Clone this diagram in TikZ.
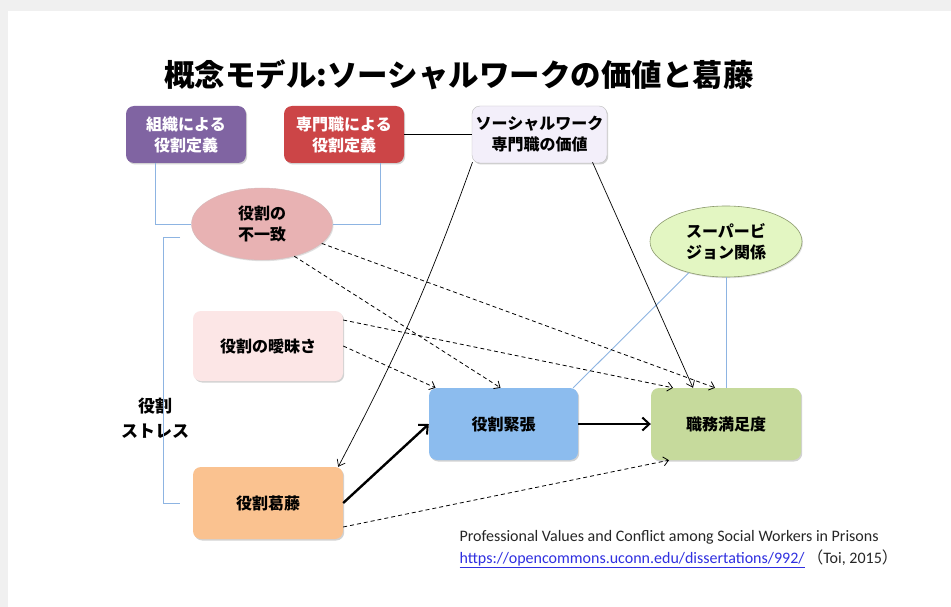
\documentclass[tikz,border=0pt]{standalone}
\usepackage{fontspec}
\setmainfont{Noto Sans CJK JP}
\newfontfamily\lat{Carlito}
\usetikzlibrary{shapes.geometric,arrows.meta,shadows}
\definecolor{cpurple}{HTML}{8064A2}
\definecolor{cred}{HTML}{CC4547}
\definecolor{clav}{HTML}{F3EFFA}
\definecolor{cpink}{HTML}{E8B2B3}
\definecolor{clpink}{HTML}{FCE6E6}
\definecolor{corange}{HTML}{FAC290}
\definecolor{cblue}{HTML}{8CBCEE}
\definecolor{cgreen}{HTML}{C6DA9C}
\definecolor{clgreen}{HTML}{E3F6C2}
\definecolor{cline}{HTML}{8DB4E2}
\definecolor{curl}{HTML}{2F2FE0}
\tikzset{
  box/.style={rounded corners=8pt, minimum width=120pt, minimum height=57pt, align=center,
    font=\fontsize{16}{21}\selectfont\bfseries, inner sep=2pt,
    drop shadow={shadow xshift=1.2pt, shadow yshift=-1.5pt, opacity=0.35}},
  oval/.style={ellipse, inner sep=0pt, align=center, font=\fontsize{16}{21}\selectfont\bfseries,
    drop shadow={shadow xshift=1pt, shadow yshift=-1.2pt, opacity=0.25}},
  bl/.style={draw=cline, line width=0.9pt},
  dsh/.style={draw=black, line width=0.8pt, dash pattern=on 4pt off 3pt, -{Straight Barb[length=5pt,width=9pt]}},
  thk/.style={draw=black, line width=2.4pt, -{Straight Barb[length=7pt,width=13pt,line width=2pt]}},
  thn/.style={draw=black, line width=0.7pt, -{Straight Barb[length=6pt,width=9pt]}},
}
\begin{document}
\begin{tikzpicture}[x=1pt,y=-1pt]
\useasboundingbox (0,0) rectangle (951,607);
\fill[black!6] (0,0) rectangle (951,607);
\fill[white] (8,11) rectangle (951,607);
\node[font=\fontsize{30.5}{32}\selectfont\bfseries] (title) at (459,75) {概念モデル:ソーシャルワークの価値と葛藤};
\node[box, fill=cpurple, text=white] (org) at (186,134.5) {組織による\\役割定義};
\node[box, fill=cred, text=white] (pro) at (344,134.5) {専門職による\\役割定義};
\node[box, fill=clav, draw=black!25, minimum width=135pt] (val) at (539.5,134.5) {ソーシャルワーク\\専門職の価値};
\node[oval, fill=cpink, draw=cpink!80!black!60, minimum width=141pt, minimum height=72pt] (mis) at (262,224) {役割の\\不一致};
\node[box, fill=clpink, minimum width=150pt, minimum height=70pt] (amb) at (268,346) {役割の曖昧さ};
\node[box, fill=corange, minimum width=150pt, minimum height=72pt] (con) at (268,503) {役割葛藤};
\node[box, fill=cblue, minimum width=149pt, minimum height=72pt] (str) at (503.5,424) {役割緊張};
\node[box, fill=cgreen, minimum width=150pt, minimum height=72pt] (sat) at (726,424) {職務満足度};
\node[oval, fill=clgreen, draw=cgreen!70!black, line width=0.6pt, minimum width=152pt, minimum height=71pt] (sup) at (726,241.5) {スーパービ\\ジョン関係};
\node[align=center, font=\fontsize{17}{25}\selectfont\bfseries] (rs) at (155,418) {役割\\ストレス};
\node[anchor=west, font=\lat\fontsize{16}{18}\selectfont, text=black!85] (cit1) at (456,537) {Professional Values and Conflict among Social Workers in Prisons};
\node[anchor=west, font=\lat\fontsize{16}{18}\selectfont, text=black!85] (cit2) at (456,559) {\textcolor{curl}{\underline{https://opencommons.uconn.edu/dissertations/992/}}\,{\rmfamily（}Toi, 2015{\rmfamily）}};
% connectors
\draw[black, line width=1.2pt] (pro.east) -- (val.west);
\draw[bl] ([xshift=-31pt]org.south) |- (mis.west);
\draw[bl] ([xshift=36pt]pro.south) |- (mis.east);
\draw[bl] (180,237) -- (163,237) -- (163,503) -- (180,503);
\draw[bl] (sup.south) -- (sat.north);
\draw[bl] (sup.-140) -- ([xshift=-5pt]str.north east);
\draw[dsh] (mis.-18) -- ([xshift=-11pt]sat.north);
\draw[dsh] (mis.-45) -- ([xshift=-3pt]str.north);
\draw[dsh] ([yshift=26pt]amb.east) -- ([xshift=-53pt]sat.north);
\draw[dsh] (amb.east) -- ([xshift=-68pt]str.north);
\draw[dsh] ([yshift=-24pt]con.east) -- ([xshift=-57pt]sat.south);
\draw[thk] (con.east) -- (str.west);
\draw[thk] (str.east) -- (sat.west);
\draw[thn] ([xshift=-67pt,yshift=1pt]val.south) to[bend left=4] ([xshift=-5pt]con.north east);
\draw[thn] ([xshift=53pt,yshift=1pt]val.south) -- ([xshift=-33pt]sat.north);
\end{tikzpicture}
\end{document}
